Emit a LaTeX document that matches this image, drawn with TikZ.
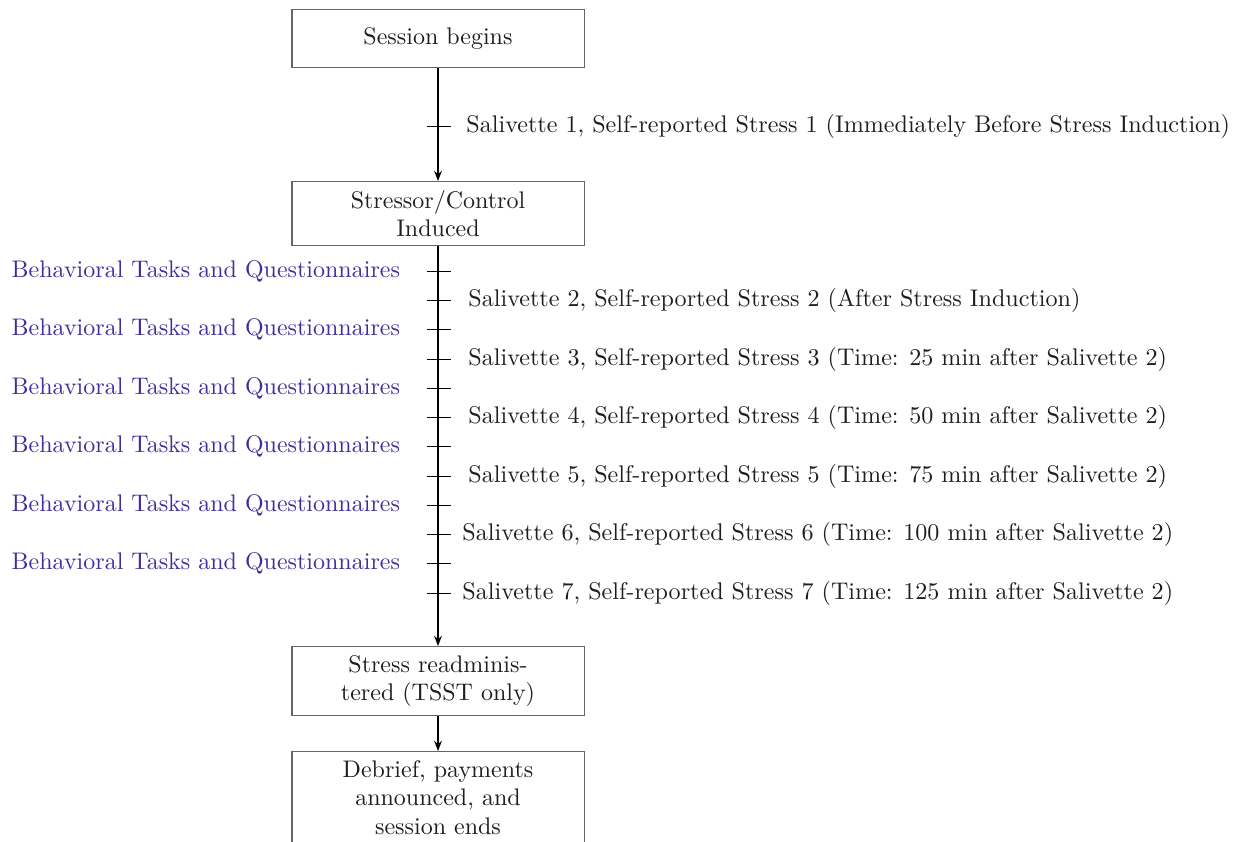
\documentclass[tikz,border=0pt]{standalone}
\usetikzlibrary{arrows.meta}
\definecolor{taskblue}{RGB}{62,48,156}
\definecolor{txt}{RGB}{30,30,30}
\begin{document}
\begin{tikzpicture}[x=0.41667pt,y=-0.41667pt,
  stagebox/.style={draw=black!60, line width=0.45pt, text=txt, text width=85pt, align=center, minimum width=121.7pt, inner sep=3.6pt, anchor=north},
  flow/.style={line width=0.8pt, -{Stealth[length=4.2pt,width=3.2pt]}},
  tick/.style={line width=0.4pt},
  salabel/.style={anchor=west, text=txt, inner sep=0pt, font=\fontsize{10.04}{12}\selectfont},
  tasklabel/.style={anchor=east, text=taskblue, inner sep=0pt}]
\useasboundingbox (0,0) rectangle (1244,841);

\node[stagebox, minimum height=24.2pt] (s1) at (438,9) {Session begins};
\node[stagebox] (s2) at (438,181) {Stressor/Control Induced};
\node[stagebox] (s3) at (438,646) {Stress readministered (TSST only)};
\node[stagebox] (s4) at (438,751) {Debrief, payments announced, and session ends};

\draw[flow] (s1.south) -- (s2.north);
\draw[flow] (s2.south) -- (s3.north);
\draw[flow] (s3.south) -- (s4.north);

% ticks
\foreach \n/\yy in {t1/126, b1/271, t2/300, b2/329, t3/359, b3/388, t4/417, b4/446, t5/476, b5/505, t6/534, b6/563, t7/593} {
  \coordinate (\n l) at (427,\yy);
  \coordinate (\n r) at (451,\yy);
  \draw[tick] (\n l) -- (\n r);
}

\node[salabel] (l1) at (466,126) {Salivette 1, Self-reported Stress 1 (Immediately Before Stress Induction)};
\node[salabel] (l2) at (468,300) {Salivette 2, Self-reported Stress 2 (After Stress Induction)};
\node[salabel] (l3) at (468,359) {Salivette 3, Self-reported Stress 3 (Time: 25 min after Salivette 2)};
\node[salabel] (l4) at (468,417) {Salivette 4, Self-reported Stress 4 (Time: 50 min after Salivette 2)};
\node[salabel] (l5) at (468,476) {Salivette 5, Self-reported Stress 5 (Time: 75 min after Salivette 2)};
\node[salabel] (l6) at (462,534) {Salivette 6, Self-reported Stress 6 (Time: 100 min after Salivette 2)};
\node[salabel] (l7) at (462,593) {Salivette 7, Self-reported Stress 7 (Time: 125 min after Salivette 2)};

\foreach \n/\yy in {1/271, 2/329, 3/388, 4/446, 5/505, 6/563} {
  \node[tasklabel] (task\n) at (400.5,\yy) {Behavioral Tasks and Questionnaires};
}
\end{tikzpicture}
\end{document}
